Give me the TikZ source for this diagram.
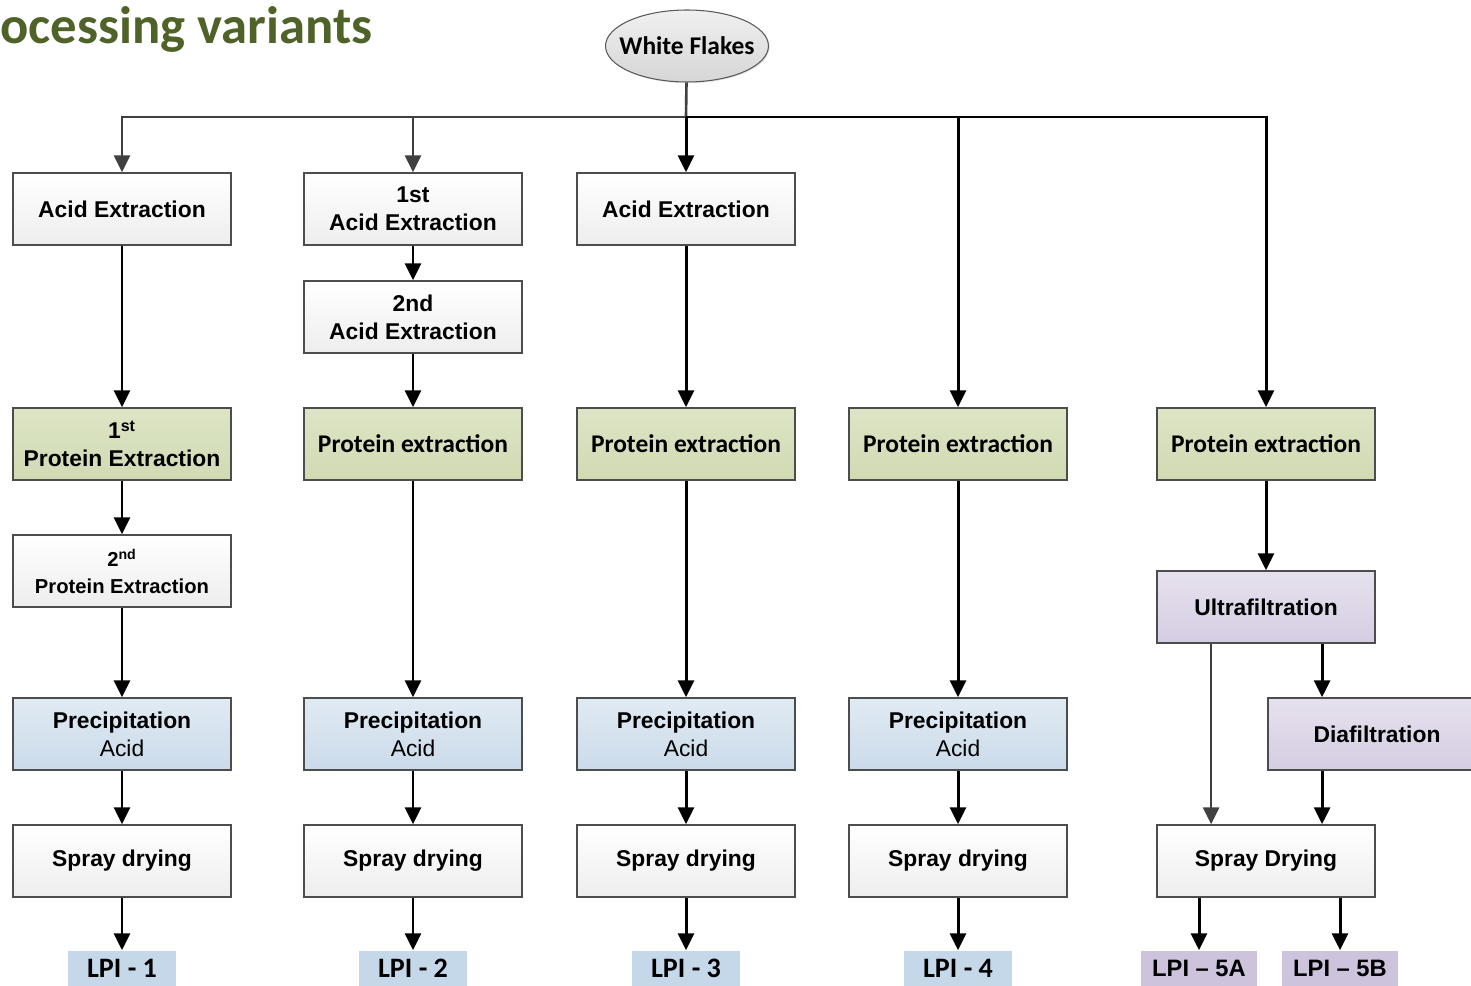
\documentclass[tikz,border=0pt]{standalone}
\usepackage{fontspec}
\setmainfont{Liberation Sans}
\newfontfamily\calfont{Carlito}
\usetikzlibrary{arrows.meta,shapes.geometric,shadows,calc}

\definecolor{titlegreen}{HTML}{4F6228}
\definecolor{boxline}{HTML}{4D4D4D}
\definecolor{linegray}{HTML}{404040}
\definecolor{protTop}{HTML}{DDE5C5}
\definecolor{protBot}{HTML}{D0DAB3}
\definecolor{precTop}{HTML}{E0EAF3}
\definecolor{precBot}{HTML}{CBDBEA}
\definecolor{filtTop}{HTML}{E6E1EE}
\definecolor{filtBot}{HTML}{D5CDE2}
\definecolor{lpiblue}{HTML}{C5D8EA}
\definecolor{lpipurple}{HTML}{CDC3DC}

\begin{document}
\begin{tikzpicture}[x=0.02cm, y=-0.02cm,
	stepbox/.style={ draw=boxline, line width=0.95pt, top color=white, bottom color=black!7, minimum width=4.36cm, minimum height=1.44cm, inner sep=2pt, align=center, font=\fontsize{13}{16}\selectfont\bfseries, drop shadow={opacity=0.2, shadow xshift=0.7pt, shadow yshift=-0.7pt} },
	protbox/.style={ stepbox, top color=protTop, bottom color=protBot },
	protboxc/.style={ protbox, font=\calfont\fontsize{14.5}{17}\selectfont\bfseries },
	precbox/.style={ stepbox, top color=precTop, bottom color=precBot },
	filtbox/.style={ stepbox, top color=filtTop, bottom color=filtBot },
	flakes/.style={ ellipse, draw=gray!70!black, line width=0.6pt, top color=gray!12, bottom color=gray!32, minimum width=3.26cm, minimum height=1.44cm, inner xsep=-5.7pt, inner ysep=0pt, font=\calfont\fontsize{14.5}{17}\selectfont\bfseries, drop shadow={opacity=0.2, shadow xshift=0.7pt, shadow yshift=-0.7pt} },
	lpibox/.style={ fill=lpiblue, minimum width=2.16cm, minimum height=0.7cm, inner sep=0pt, font=\calfont\fontsize{16}{18}\selectfont\bfseries },
	lpiboxp/.style={ lpibox, fill=lpipurple, minimum width=2.32cm, font=\fontsize{13.5}{16}\selectfont\bfseries },
	arr/.style={ line width=1.7pt, -{Triangle[length=9.5pt,width=9pt]} },
	arrg/.style={ arr, draw=linegray, line width=1.5pt }
]
\useasboundingbox (0,0) rectangle (1471,986);

\node[anchor=base west, inner sep=0pt, text=titlegreen, font=\calfont\fontsize{30}{32}\selectfont\bfseries] at (0,44) (title) {ocessing variants};
\node[flakes] at (687,46) (wf) {White Flakes};

\node[stepbox] at (122,209) (ae1) {Acid Extraction};
\node[protbox] at (122,444) (pe1) {1\textsuperscript{st}\\Protein Extraction};
\node[stepbox, font=\fontsize{11.5}{15}\selectfont\bfseries] at (122,571) (pe1b) {2\textsuperscript{nd}\\Protein Extraction};
\node[precbox] at (122,734) (pr1) {Precipitation\\\mdseries Acid};
\node[stepbox] at (122,861) (sd1) {Spray drying};
\node[lpibox] at (122,968) (lpi1) {LPI - 1};

\node[stepbox] at (413,209) (ae2) {1st\\Acid Extraction};
\node[stepbox] at (413,317) (ae2b) {2nd\\Acid Extraction};
\node[protboxc] at (413,444) (pe2) {Protein extraction};
\node[precbox] at (413,734) (pr2) {Precipitation\\\mdseries Acid};
\node[stepbox] at (413,861) (sd2) {Spray drying};
\node[lpibox] at (413,968) (lpi2) {LPI - 2};

\node[stepbox] at (686,209) (ae3) {Acid Extraction};
\node[protboxc] at (686,444) (pe3) {Protein extraction};
\node[precbox] at (686,734) (pr3) {Precipitation\\\mdseries Acid};
\node[stepbox] at (686,861) (sd3) {Spray drying};
\node[lpibox] at (686,968) (lpi3) {LPI - 3};

\node[protboxc] at (958,444) (pe4) {Protein extraction};
\node[precbox] at (958,734) (pr4) {Precipitation\\\mdseries Acid};
\node[stepbox] at (958,861) (sd4) {Spray drying};
\node[lpibox] at (958,968) (lpi4) {LPI - 4};

\node[protboxc] at (1266,444) (pe5) {Protein extraction};
\node[filtbox] at (1266,607) (uf) {Ultrafiltration};
\node[filtbox] at (1377,734) (dia) {Diafiltration};
\node[stepbox] at (1266,861) (sd5) {Spray Drying};
\node[lpiboxp] at (1199,968) (lpi5a) {LPI -- 5A};
\node[lpiboxp] at (1340,968) (lpi5b) {LPI -- 5B};

\coordinate (bus) at (686,117);
\draw[linegray, line width=1.5pt] (wf) -- (bus);
\foreach \p in {ae1,ae2} \draw[arrg] (bus) -| (\p);
\draw[arr] (bus) -- (ae3);
\foreach \p in {pe4,pe5} \draw[arr] (bus) -| (\p);

\foreach \a/\b in {ae1/pe1, pe1/pe1b, pe1b/pr1, pr1/sd1, sd1/lpi1,
	ae2/ae2b, ae2b/pe2, pe2/pr2, pr2/sd2, sd2/lpi2,
	ae3/pe3, pe3/pr3, pr3/sd3, sd3/lpi3,
	pe4/pr4, pr4/sd4, sd4/lpi4, pe5/uf} \draw[arr] (\a) -- (\b);

\coordinate (ufl) at ($(uf.south west)!0.25!(uf.south east)$);
\coordinate (dtop) at ($(dia.north west)!0.25!(dia.north east)$);
\coordinate (dbot) at ($(dia.south west)!0.25!(dia.south east)$);
\draw[arrg] (ufl) -- (ufl |- sd5.north);
\draw[arr] (dtop |- uf.south) -- (dtop);
\draw[arr] (dbot) -- (dbot |- sd5.north);
\foreach \p in {lpi5a,lpi5b} \draw[arr] (sd5.south -| \p) -- (\p);

\end{tikzpicture}
\end{document}
